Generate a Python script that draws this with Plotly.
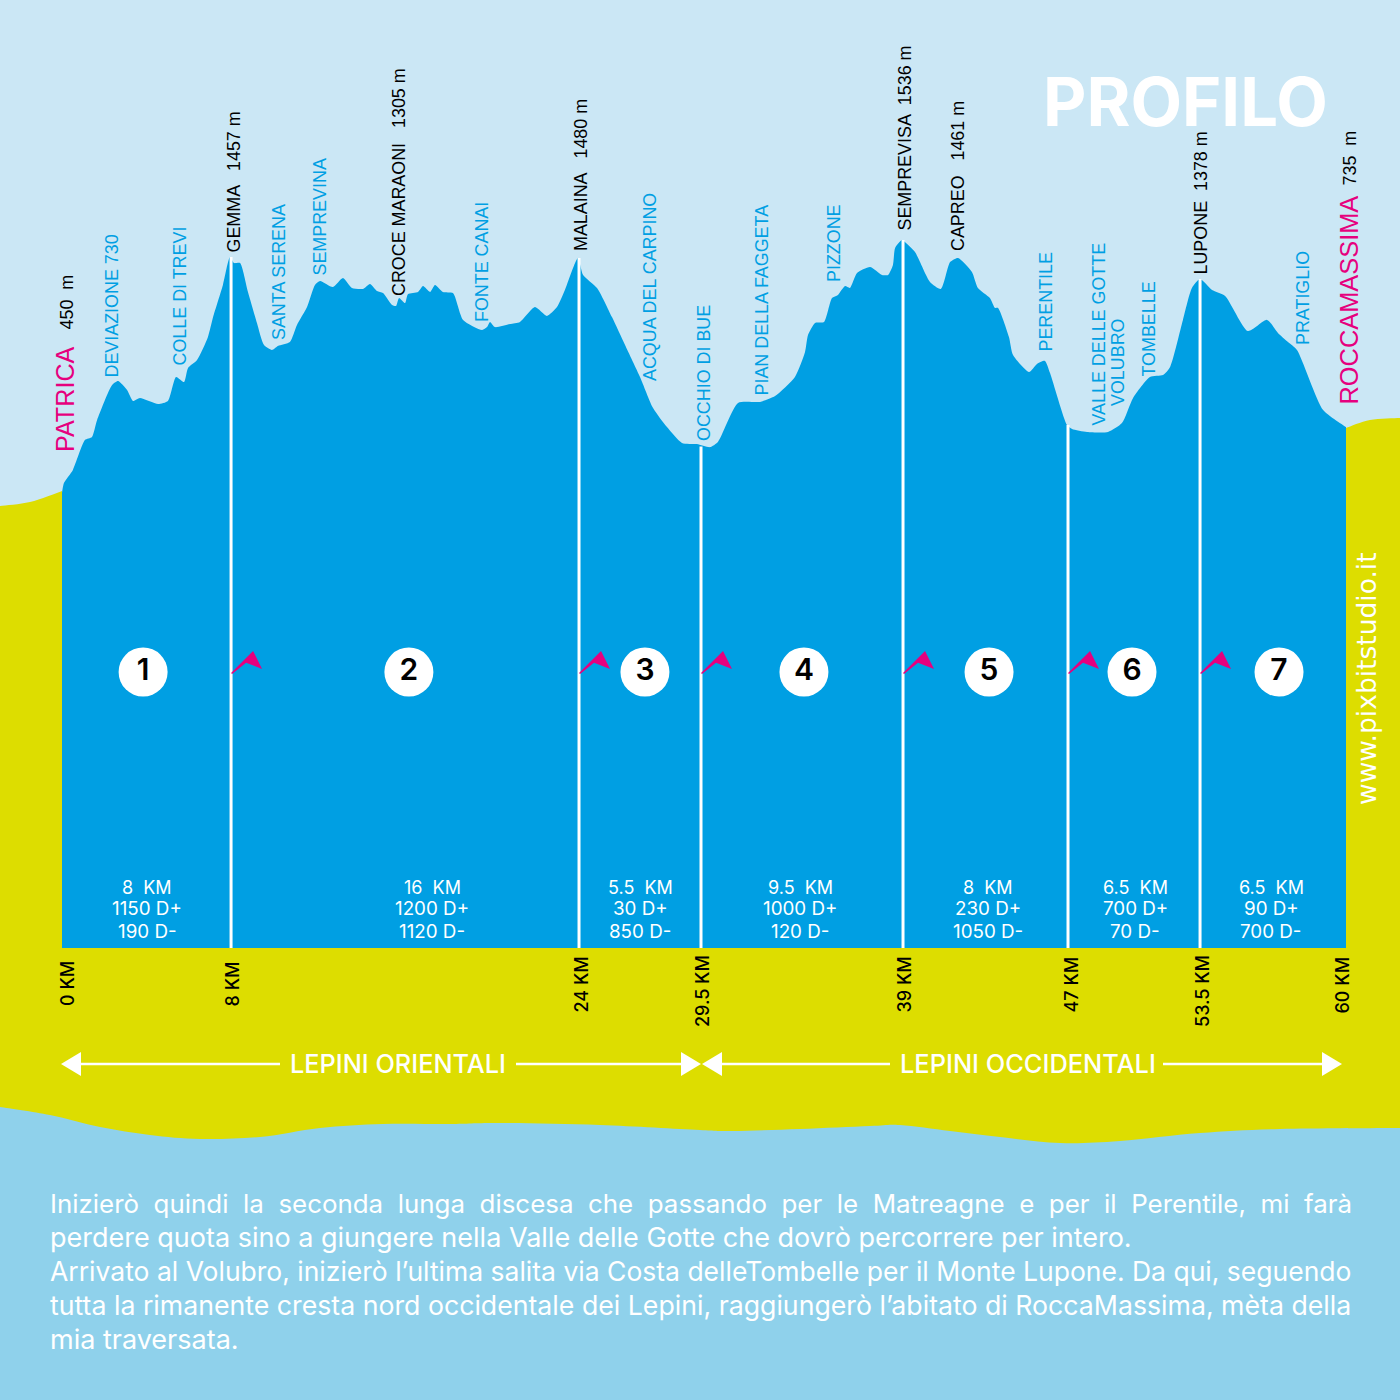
import plotly.graph_objects as go

# ---------- data ----------
km = [0,0.09,0.51,1.07,1.40,1.64,2.34,2.62,3.04,3.32,3.64,4.49,4.95,5.33,5.70,5.89,6.31,6.82,7.06,7.52,7.85,
      8.04,8.32,8.69,9.11,9.44,9.81,10.09,10.65,10.98,11.45,11.82,12.06,12.66,13.13,13.55,14.07,14.39,14.72,15.00,
      15.42,15.61,15.75,16.03,16.17,16.64,16.87,17.20,17.43,17.80,18.27,18.74,19.63,19.86,20.00,20.23,20.93,21.40,
      22.10,22.66,23.13,23.50,24.11,24.35,25.00,25.70,26.31,27.01,27.62,28.27,28.97,29.67,30.28,30.65,31.59,32.62,
      33.32,34.25,34.72,34.86,35.19,35.61,35.98,36.26,36.59,36.82,37.15,37.76,38.32,38.60,38.83,38.93,39.25,39.39,
      39.86,40.56,41.07,41.50,41.87,42.52,42.80,43.36,43.60,43.74,44.25,44.44,45.19,45.56,45.93,46.17,46.96,47.20,
      47.90,48.88,49.53,50.05,50.84,51.45,51.78,52.38,52.80,53.18,53.74,54.35,55.42,56.31,56.82,57.29,57.71,58.93,60.00]
elev = [450,493,549,677,690,763,914,931,892,845,858,832,845,948,926,987,1021,1120,1205,1343,1463,
        1437,1437,1313,1180,1085,1064,1081,1098,1171,1248,1343,1360,1334,1373,1330,1326,1347,1317,1308,
        1257,1253,1287,1265,1304,1313,1338,1313,1343,1313,1308,1193,1150,1162,1184,1162,1175,1184,
        1248,1210,1248,1321,1459,1386,1330,1205,1085,948,815,733,665,660,647,669,836,841,
        866,948,1055,1128,1180,1184,1287,1300,1338,1330,1394,1420,1386,1386,1429,1502,1536,1527,
        1484,1356,1326,1441,1459,1399,1330,1287,1244,1244,1120,1042,969,1004,1017,965,742,725,
        712,712,750,858,948,956,991,1193,1330,1368,1321,1296,1145,1193,1137,1098,1064,806,733]

sep_km = [7.90, 24.16, 29.86, 39.30, 47.01, 53.18]
sep_elev = [1463, 1459, 650, 1536, 742, 1368]
km_labels = ["0 KM", "8 KM", "24 KM", "29.5 KM", "39 KM", "47 KM", "53.5 KM", "60 KM"]
stage_no = ["1", "2", "3", "4", "5", "6", "7"]
stage_km = [3.79, 16.21, 27.24, 34.67, 43.32, 50.0, 56.87]
stage_dist = ["8  KM", "16  KM", "5.5  KM", "9.5  KM", "8  KM", "6.5  KM", "6.5  KM"]
stage_up = ["1150 D+", "1200 D+", "30 D+", "1000 D+", "230 D+", "700 D+", "90 D+"]
stage_down = ["190 D-", "1120 D-", "850 D-", "120 D-", "1050 D-", "70 D-", "700 D-"]

waypoints = ["450  m", "DEVIAZIONE 730", "COLLE DI TREVI", "GEMMA   1457 m", "SANTA SERENA", "SEMPREVINA",
             "CROCE MARAONI   1305 m", "FONTE CANAI", "MALAINA   1480 m", "ACQUA DEL CARPINO", "OCCHIO DI BUE",
             "PIAN DELLA FAGGETA", "PIZZONE", "SEMPREVISA  1536 m", "CAPREO   1461 m", "PERENTILE",
             "VALLE DELLE GOTTE", "VOLUBRO", "TOMBELLE", "LUPONE  1378 m", "PRATIGLIO", "735  m"]
waypoint_blue = {"DEVIAZIONE 730", "COLLE DI TREVI", "SANTA SERENA", "SEMPREVINA", "FONTE CANAI", "ACQUA DEL CARPINO",
                 "OCCHIO DI BUE", "PIAN DELLA FAGGETA", "PIZZONE", "PERENTILE", "VALLE DELLE GOTTE", "VOLUBRO",
                 "TOMBELLE", "PRATIGLIO"}
body_lines = ["Inizierò  quindi  la  seconda  lunga  discesa  che  passando  per  le  Matreagne  e  per  il  Perentile,  mi  farà",
              "perdere quota sino a giungere nella Valle delle Gotte che dovrò percorrere per intero.",
              "Arrivato al Volubro, inizierò l’ultima salita via Costa delleTombelle per il Monte Lupone. Da qui, seguendo",
              "tutta la rimanente cresta nord occidentale dei Lepini, raggiungerò l’abitato di RoccaMassima, mèta della",
              "mia traversata."]

# ---------- layout constants ----------
W = 1400
X0, PX_KM = 62, 21.4
Y450, PX_M = 493, 0.233
BASE_M = 450 + (Y450 - 948) / PX_M
BLUE, SKY, YELLOW, LOWER, PINK = "#009fe3", "#cbe7f5", "#dddd00", "#8fd1eb", "#e6007e"

way_x = [66, 111, 180, 233, 279, 319, 399, 482, 581, 650, 704, 761, 834, 904, 958, 1045, 1098, 1118, 1148, 1201, 1303, 1349]
way_bottom = [330, 377, 365, 253, 340, 276, 296, 322, 251, 381, 441, 396, 282, 231, 251, 352, 426, 406, 377, 275, 345, 186]
km_label_x = [67, 231.5, 580.5, 702, 903.5, 1070.5, 1202, 1341.5]
km_label_y = [984, 984, 985, 991, 985, 985, 991, 985]
stat_x = [147, 432, 640, 800, 988, 1135, 1271]
stat_y = [887, 909, 931]
body_y = [1203, 1237, 1271, 1305, 1339]
body_size = [25.9, 27.0, 26.5, 26.7, 27.0]
upper_wave_l = [(0, 506), (30, 502), (62, 491)]
upper_wave_r = [(1346, 428), (1370, 420), (1400, 418)]
lower_wave = [(0, 1107), (50, 1115), (100, 1127), (150, 1135), (200, 1139), (260, 1137), (320, 1128), (383, 1124),
              (450, 1124), (500, 1123), (600, 1125), (700, 1130), (733, 1131), (800, 1129), (870, 1126), (900, 1125),
              (950, 1131), (1000, 1137), (1060, 1143), (1120, 1141), (1200, 1133), (1280, 1129), (1400, 1128)]


def fx(p): return p / W
def fy(p): return 1 - p / W


def poly(points):
    return "M " + " L ".join(f"{fx(x):.5f},{fy(y):.5f}" for x, y in points) + " Z"


def smooth(points):
    pts = [points[0]] + points + [points[-1]]
    s = f"M {fx(points[0][0]):.5f},{fy(points[0][1]):.5f}"
    for i in range(1, len(pts) - 2):
        p0, p1, p2, p3 = pts[i - 1], pts[i], pts[i + 1], pts[i + 2]
        c1 = (p1[0] + (p2[0] - p0[0]) / 6, p1[1] + (p2[1] - p0[1]) / 6)
        c2 = (p2[0] - (p3[0] - p1[0]) / 6, p2[1] - (p3[1] - p1[1]) / 6)
        s += f" C {fx(c1[0]):.5f},{fy(c1[1]):.5f} {fx(c2[0]):.5f},{fy(c2[1]):.5f} {fx(p2[0]):.5f},{fy(p2[1]):.5f}"
    return s


def filled(path, color, layer="below"):
    return dict(type="path", xref="paper", yref="paper", path=path, fillcolor=color, line_width=0, layer=layer)


def white_line(x0, x1, y):
    return dict(type="line", xref="paper", yref="paper", x0=fx(x0), x1=fx(x1), y0=fy(y), y1=fy(y),
                line=dict(color="white", width=2.5))


def note(text, x, y, size, color, family="Liberation Sans", angle=0, xa="center", ya="middle", weight=None):
    return dict(text=text, x=fx(x), y=fy(y), xref="paper", yref="paper", showarrow=False, textangle=angle,
                xanchor=xa, yanchor=ya, font=dict(size=size, color=color, family=family, weight=weight),
                borderpad=0, borderwidth=0)


fig = go.Figure()

# profile
fig.add_trace(go.Scatter(x=[0, 0, 0] + km + [60, 60, 60], y=[BASE_M, BASE_M, elev[0]] + elev + [elev[-1], BASE_M, BASE_M],
                         fill="toself", fillcolor=BLUE, mode="lines",
                         line=dict(width=0, color=BLUE, shape="spline", smoothing=0.6),
                         hoverinfo="skip", showlegend=False))
# separators
sx, sy = [], []
for k, e in zip(sep_km, sep_elev):
    sx += [k, k, None]
    sy += [BASE_M, e, None]
fig.add_trace(go.Scatter(x=sx, y=sy, mode="lines", line=dict(color="white", width=3), hoverinfo="skip", showlegend=False))
# numbered stages
stage_y = [450 + (Y450 - 672) / PX_M] * len(stage_km)
fig.add_trace(go.Scatter(x=stage_km, y=stage_y, mode="markers+text", text=stage_no, textposition="middle center",
                         marker=dict(color="white", size=49, line_width=0),
                         textfont=dict(family="Inter", size=30, color="black", weight=600),
                         hoverinfo="skip", showlegend=False))

shapes = [filled(smooth(upper_wave_l) + " " + " ".join(f"L {fx(x)},{fy(y)}" for x, y in [(62, 1200), (0, 1200)]) + " Z", YELLOW),
          filled(smooth(upper_wave_r) + " " + " ".join(f"L {fx(x)},{fy(y)}" for x, y in [(1400, 1200), (1346, 1200)]) + " Z", YELLOW),
          filled(poly([(0, 940), (1400, 940), (1400, 1200), (0, 1200)]), YELLOW),
          filled(smooth(lower_wave) + f" L {fx(1400)},0 L 0,0 Z", LOWER)]

# flags at every separator
for k in sep_km:
    px = X0 + k * PX_KM
    flag = [(px, 673), (px + 13, 660), (px + 22, 651), (px + 31, 669), (px + 15, 662.7), (px + 1, 674)]
    shapes.append(filled(poly(flag), PINK, "above"))

# arrows
arrow_y = 1064
shapes += [white_line(78, 280, arrow_y), white_line(516, 684, arrow_y), white_line(720, 890, arrow_y),
           white_line(1163, 1325, arrow_y)]
for tri in ([(61, arrow_y), (81, arrow_y - 12), (81, arrow_y + 12)],
            [(701, arrow_y), (681, arrow_y - 12), (681, arrow_y + 12)],
            [(702, arrow_y), (722, arrow_y - 12), (722, arrow_y + 12)],
            [(1342, arrow_y), (1322, arrow_y - 12), (1322, arrow_y + 12)]):
    shapes.append(filled(poly(tri), "white", "above"))

notes = [note("PROFILO", 1185, 101, 67, "white", "Inter", weight=700),
         note("PATRICA", 65, 452, 25.2, PINK, angle=-90, ya="bottom"),
         note("ROCCAMASSIMA", 1348, 405, 25.4, PINK, angle=-90, ya="bottom"),
         note("www.pixbitstudio.it", 1366, 679, 26.5, "white", "DejaVu Sans", angle=-90),
         note("LEPINI ORIENTALI", 397.5, 1063, 25.3, "white", "Inter", weight=500),
         note("LEPINI OCCIDENTALI", 1027.5, 1063, 25.4, "white", "Inter", weight=500)]
for t, x, b in zip(waypoints, way_x, way_bottom):
    notes.append(note(t, x, b, 17.9, BLUE if t in waypoint_blue else "black", angle=-90, ya="bottom"))
for t, x, y in zip(km_labels, km_label_x, km_label_y):
    notes.append(note(t, x, y, 18, "black", "Inter", angle=-90, weight=500))
for d, u, n, x in zip(stage_dist, stage_up, stage_down, stat_x):
    notes.append(note(d, x, stat_y[0], 18, "white", "Inter"))
    notes.append(note(u, x, stat_y[1], 18.8, "white", "Inter"))
    notes.append(note(n, x, stat_y[2], 18.8, "white", "Inter"))
for t, y, s in zip(body_lines, body_y, body_size):
    notes.append(note(t, 50, y, s, "white", "Inter", xa="left", weight=400))

fig.update_layout(width=W, height=W, autosize=False, margin=dict(l=0, r=0, t=0, b=0, pad=0),
                  paper_bgcolor=SKY, plot_bgcolor="rgba(0,0,0,0)", showlegend=False,
                  shapes=shapes, annotations=notes,
                  xaxis=dict(range=[-X0 / PX_KM, (W - X0) / PX_KM], visible=False, fixedrange=True),
                  yaxis=dict(range=[450 + (Y450 - W) / PX_M, 450 + Y450 / PX_M], visible=False, fixedrange=True))

fig.write_html("out.html", config={"displayModeBar": False},
               post_script="document.body.style.margin='0';document.body.style.padding='0';window.dispatchEvent(new Event('resize'));")
